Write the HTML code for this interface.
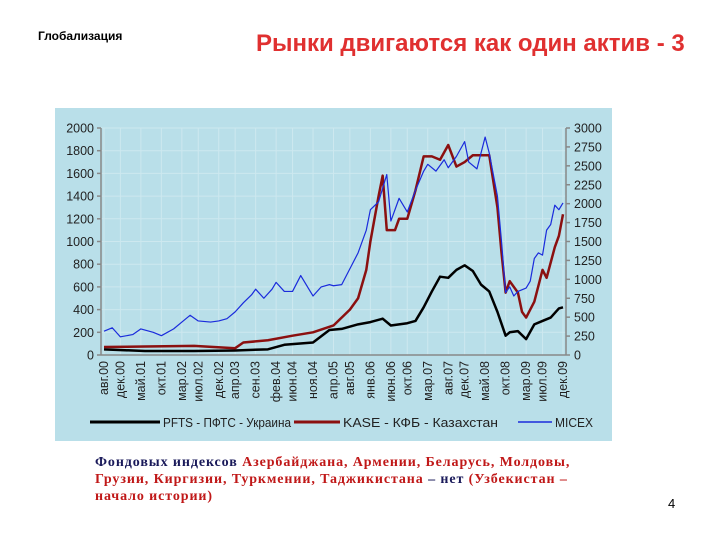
<!DOCTYPE html>
<html><head><meta charset="utf-8">
<style>
body{margin:0;width:720px;height:540px;background:#fff;position:relative;overflow:hidden;font-family:"Liberation Sans",sans-serif}
#t1{position:absolute;left:38px;top:29px;font-size:12px;font-weight:bold;color:#000}
#t2{position:absolute;left:256px;top:30px;font-size:24px;font-weight:bold;color:#e03030;white-space:nowrap}
#note{position:absolute;left:95px;top:454px;font-family:"Liberation Serif",serif;font-weight:bold;font-size:14px;line-height:17px;color:#c01818;letter-spacing:0.9px;white-space:nowrap}
#pg{position:absolute;left:668px;top:496px;font-size:13px}
</style></head><body>
<div id="t1">Глобализация</div>
<div id="t2">Рынки двигаются как один актив - 3</div>
<svg id="ch" width="720" height="540" style="position:absolute;left:0;top:0"></svg>
<div id="note"><span style="color:#1a1a5a">Фондовых индексов </span>Азербайджана, Армении, Беларусь, Молдовы,<br>Грузии, Киргизии, Туркмении, Таджикистана <span style="color:#1a1a5a">– нет </span>(Узбекистан –<br>начало истории)</div>
<div id="pg">4</div>
<script>
const tickLabels=["авг.00","дек.00","май.01","окт.01","мар.02","июл.02","дек.02","апр.03","сен.03","фев.04","июн.04","ноя.04","апр.05","авг.05","янв.06","июн.06","окт.06","мар.07","авг.07","дек.07","май.08","окт.08","мар.09","июл.09","дек.09"];
const leftTicks=[0,200,400,600,800,1000,1200,1400,1600,1800,2000];
const rightTicks=[0,250,500,750,1000,1250,1500,1750,2000,2250,2500,2750,3000];
const micexDates=["2000-08","2000-10","2000-12","2001-03","2001-05","2001-08","2001-10","2002-01","2002-03","2002-05","2002-07","2002-10","2002-12","2003-02","2003-04","2003-06","2003-08","2003-09","2003-11","2004-01","2004-02","2004-04","2004-06","2004-08","2004-10","2004-11","2005-01","2005-03","2005-04","2005-06","2005-08","2005-10","2005-12","2006-01","2006-03","2006-05","2006-06","2006-08","2006-10","2006-12","2007-02","2007-03","2007-05","2007-07","2007-08","2007-10","2007-12","2008-01","2008-03","2008-05","2008-06","2008-08","2008-09","2008-10","2008-11","2008-12","2009-01","2009-03","2009-04","2009-05","2009-06","2009-07","2009-08","2009-09","2009-10","2009-11","2009-12"];
const micexValues=[315,360,240,270,345,300,255,345,435,525,450,435,450,480,570,690,795,870,750,870,960,840,840,1050,870,780,900,930,915,930,1140,1350,1650,1920,2025,2385,1770,2070,1890,2175,2430,2520,2430,2580,2475,2625,2820,2550,2460,2880,2670,2100,1500,825,900,780,840,885,975,1275,1350,1320,1650,1725,1980,1920,2010];
const kaseDates=["2000-08","2001-06","2002-06","2003-04","2003-06","2003-12","2004-06","2004-11","2005-04","2005-08","2005-10","2005-12","2006-01","2006-03","2006-04","2006-05","2006-07","2006-08","2006-10","2006-12","2007-02","2007-04","2007-06","2007-08","2007-10","2007-12","2008-02","2008-04","2008-06","2008-08","2008-09","2008-10","2008-11","2009-01","2009-02","2009-03","2009-05","2009-07","2009-08","2009-10","2009-11","2009-12"];
const kaseValues=[70,75,80,60,110,130,170,200,260,400,500,750,1000,1400,1580,1100,1100,1200,1200,1450,1750,1750,1720,1850,1660,1700,1760,1760,1760,1300,900,550,650,550,380,330,470,750,680,950,1050,1240];
const pftsDates=["2000-08","2001-06","2002-06","2003-04","2003-12","2004-04","2004-11","2005-03","2005-06","2005-10","2006-01","2006-04","2006-06","2006-10","2006-12","2007-02","2007-04","2007-06","2007-08","2007-10","2007-12","2008-02","2008-04","2008-06","2008-08","2008-10","2008-11","2009-01","2009-03","2009-05","2009-07","2009-09","2009-11","2009-12"];
const pftsValues=[50,35,35,40,50,90,110,220,230,270,290,320,260,280,300,420,560,690,680,750,790,740,620,560,380,170,200,210,140,270,300,330,410,420];

const NS="http://www.w3.org/2000/svg";const svg=document.getElementById('ch');
function el(t,a,p){const e=document.createElementNS(NS,t);for(const k in a)e.setAttribute(k,a[k]);(p||svg).appendChild(e);return e;}
const X0=101,X1=566,Y0=355,Y1=128;
function mi(s){const [y,m]=s.split('-').map(Number);return (y-2000)*12+m-8;}
const M1=mi("2009-12");
const xs=m=>X0+3+(X1-X0-6)*m/M1;
const yl=v=>Y0-(Y0-Y1)*v/2000;
const yr=v=>Y0-(Y0-Y1)*v/3000;
const tickM=[];{const mon={"янв":1,"фев":2,"мар":3,"апр":4,"май":5,"июн":6,"июл":7,"авг":8,"сен":9,"окт":10,"ноя":11,"дек":12};tickLabels.forEach(l=>{const [a,b]=l.split('.');tickM.push((+b)*12+mon[a]-8);});}
let r=el('rect',{x:55,y:108,width:557,height:333,fill:'#b9dfe9'});


const grid=el('g',{stroke:'#cde8ef','stroke-width':1});


leftTicks.forEach(v=>el('line',{x1:X0,x2:X1,y1:yl(v),y2:yl(v)},grid));
tickM.forEach(m=>el('line',{x1:xs(m),x2:xs(m),y1:Y1,y2:Y0},grid));
const ax=el('g',{stroke:'#888','stroke-width':1.5});


el('line',{x1:X0,x2:X0,y1:Y1,y2:Y0},ax);el('line',{x1:X1,x2:X1,y1:Y1,y2:Y0},ax);el('line',{x1:X0,x2:X1,y1:Y0,y2:Y0},ax);
leftTicks.forEach(v=>{el('line',{x1:X0-4,x2:X0,y1:yl(v),y2:yl(v)},ax);const t=el('text',{x:X0-7,y:yl(v)+4.5,'text-anchor':'end','font-size':12.5,fill:'#222'});t.textContent=v;});
rightTicks.forEach(v=>{el('line',{x1:X1,x2:X1+4,y1:yr(v),y2:yr(v)},ax);const t=el('text',{x:X1+8,y:yr(v)+4.5,'font-size':12.5,fill:'#222'});t.textContent=v;});
tickLabels.forEach((l,i)=>{const x=xs(tickM[i])+4;const t=el('text',{x:x,y:Y0+6,'text-anchor':'end','font-size':12.5,fill:'#222',transform:`rotate(-90 ${x} ${Y0+6})`});t.textContent=l;});
function line(d,v,ys,c,w,name){const p=el('polyline',{points:d.map((s,i)=>xs(mi(s))+','+ys(v[i])).join(' '),fill:'none',stroke:c,'stroke-width':w,'stroke-linejoin':'round'});}
line(pftsDates,pftsValues,yl,'#000',2.5,'pfts-line');
line(kaseDates,kaseValues,yl,'#8b1010',2.5,'kase-line');
line(micexDates,micexValues,yr,'#1a2bdc',1.2,'micex-line');
const leg=[[90,160,'#000',3,'PFTS - ПФТС - Украина',128],[294,340,'#8b1010',3,'KASE - КФБ - Казахстан',155],[518,552,'#1a2bdc',1.5,'MICEX',38]];
leg.forEach(L=>{const g=el('g',{});el('line',{x1:L[0],x2:L[1],y1:422,y2:422,stroke:L[2],'stroke-width':L[3]},g);const t=el('text',{x:L[1]+3,y:427,'font-size':12.5,fill:'#222',textLength:L[5],lengthAdjust:'spacingAndGlyphs'},g);t.textContent=L[4];});
</script>
</body></html>
